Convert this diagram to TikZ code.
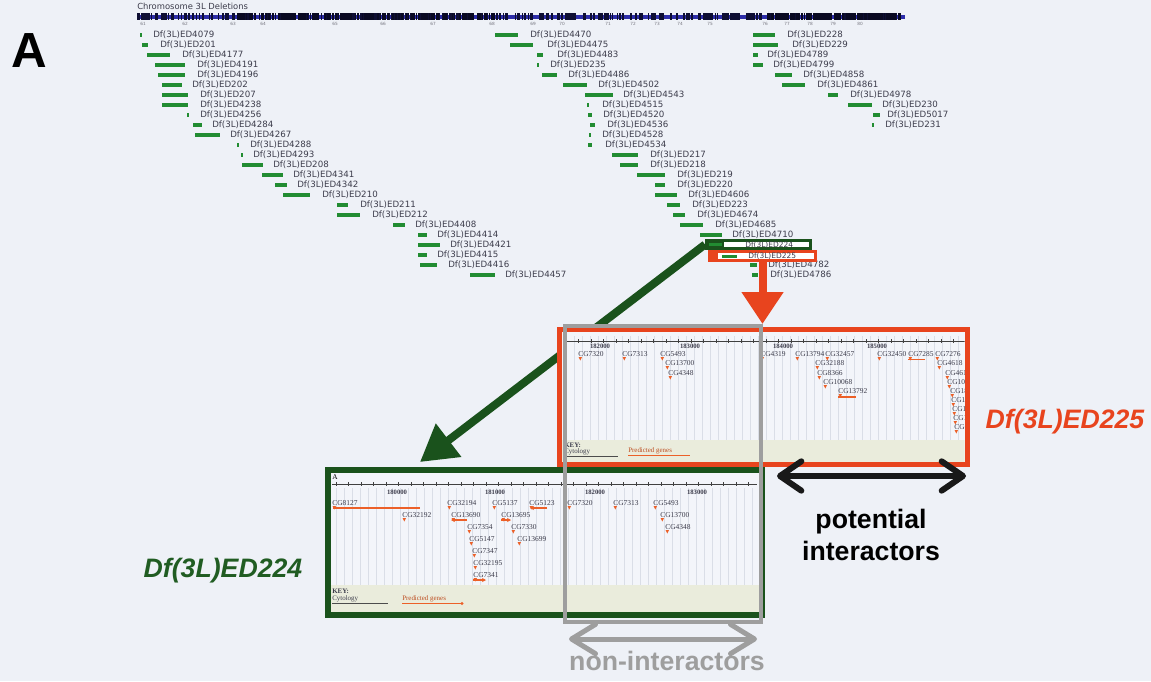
\documentclass[tikz,border=0pt]{standalone}
\usepackage{fontspec}
\setmainfont{Liberation Sans}
\newfontfamily\delfont{DejaVu Sans}
\newfontfamily\genefont{Liberation Serif}
\usetikzlibrary{arrows.meta}

\definecolor{pagebg}{RGB}{238,241,247}
\definecolor{panelbg}{RGB}{243,245,250}
\definecolor{delgreen}{RGB}{34,140,50}
\definecolor{boxgreen}{RGB}{26,82,28}
\definecolor{labgreen}{RGB}{32,92,34}
\definecolor{hired}{RGB}{232,68,30}
\definecolor{midgray}{RGB}{158,158,158}
\definecolor{keybg}{RGB}{234,236,220}
\definecolor{gridln}{RGB}{218,222,231}
\definecolor{chrblue}{RGB}{45,45,170}
\definecolor{txtgray}{RGB}{60,60,75}
\definecolor{geneor}{RGB}{236,96,40}

\begin{document}
\begin{tikzpicture}[x=0.75pt,y=-0.75pt,
  dellabel/.style={anchor=west,inner sep=0pt,font=\delfont\fontsize{6.5}{7}\selectfont,text=txtgray},
  genelabel/.style={anchor=west,inner sep=0pt,font=\genefont\fontsize{5.6}{6}\selectfont,text=txtgray},
  rulerlabel/.style={inner sep=0pt,font=\genefont\bfseries\fontsize{5}{6}\selectfont,text=txtgray},
  keytext/.style={anchor=west,inner sep=0pt,font=\genefont\fontsize{5.2}{6}\selectfont,text=txtgray},
  bigtext/.style={inner sep=0pt,font=\bfseries\fontsize{20}{24}\selectfont},
  frame/.style={inner sep=0pt,outer sep=0pt},
  marker/.style={fill=geneor},
]
\useasboundingbox (0,0) rectangle (1151,681);
\fill[pagebg] (0,0) rectangle (1151,681);

% ---------- frame geometry (drawn further below) ----------
\node[frame,minimum width=305.6pt,minimum height=100.9pt] (redzoom) at (763.25,397.25) {};
\node[frame,minimum width=325.5pt,minimum height=108.75pt] (greenzoom) at (545,542.5) {};
\node[frame,minimum width=147pt,minimum height=222pt] (grayzoom) at (663,474) {};

% ---------- panel letter ----------
\node[inner sep=0pt,font=\bfseries\fontsize{37}{40}\selectfont] (panelA) at (29,51) {A};

% ---------- chromosome arm ----------
\node[anchor=west,inner sep=0pt,font=\delfont\fontsize{6.3}{7}\selectfont,text=txtgray] (chrtitle) at (137,6) {Chromosome 3L Deletions};
\fill[chrblue] (137,15) rectangle (905,19);
\pgfmathsetseed{11}
\foreach \i in {1,...,420}{
  \pgfmathsetmacro\bx{137+766*rnd}
  \pgfmathsetmacro\bw{0.5+1.6*rnd}
  \fill[black!70!chrblue] (\bx,13.5) rectangle ++(\bw,7);
}
\foreach \i in {1,...,200}{
  \pgfmathsetmacro\bx{235+260*rnd}
  \pgfmathsetmacro\bw{0.5+1.6*rnd}
  \fill[black!80!chrblue] (\bx,13.5) rectangle ++(\bw,7);
}
\foreach \i in {1,...,150}{
  \pgfmathsetmacro\bx{765+135*rnd}
  \pgfmathsetmacro\bw{0.5+1.6*rnd}
  \fill[black!80!chrblue] (\bx,13.5) rectangle ++(\bw,7);
}
\foreach \tx/\tn in {143/61,185/62,233/63,263/64,335/65,383/66,433/67,492/68,533/69,562/70,
                     608/71,633/72,657/73,680/74,710/75,765/76,787/77,810/78,833/79,860/80}{
  \node[inner sep=0pt,font=\delfont\fontsize{3.2}{4}\selectfont,text=txtgray!70] (cyt-\tn) at (\tx,24) {\tn};
}

% ---------- deletion list ----------
\foreach \a/\b/\r/\l/\n in {
  140/142/0/153/ED4079, 142/148/1/160/ED201, 147/170/2/182/ED4177, 155/185/3/197/ED4191,
  158/185/4/197/ED4196, 162/182/5/192/ED202, 162/188/6/200/ED207, 162/188/7/200/ED4238,
  187/189/8/200/ED4256, 193/202/9/212/ED4284, 195/220/10/230/ED4267, 237/239/11/250/ED4288,
  241/243/12/253/ED4293, 242/263/13/273/ED208, 262/283/14/293/ED4341, 275/287/15/297/ED4342,
  283/310/16/322/ED210, 337/348/17/360/ED211, 337/360/18/372/ED212, 393/405/19/415/ED4408,
  418/427/20/437/ED4414, 418/440/21/450/ED4421, 418/427/22/437/ED4415, 420/437/23/448/ED4416,
  470/495/24/505/ED4457,
  495/518/0/530/ED4470, 510/533/1/547/ED4475, 537/543/2/557/ED4483, 537/539/3/550/ED235,
  542/557/4/568/ED4486, 563/587/5/598/ED4502, 585/613/6/623/ED4543, 587/589/7/602/ED4515,
  588/592/8/603/ED4520, 590/595/9/607/ED4536, 589/591/10/602/ED4528, 588/592/11/605/ED4534,
  612/638/12/650/ED217, 620/638/13/650/ED218, 637/665/14/677/ED219, 655/665/15/677/ED220,
  655/677/16/688/ED4606, 667/680/17/692/ED223, 673/685/18/697/ED4674, 680/703/19/715/ED4685,
  700/722/20/732/ED4710, 750/757/23/768/ED4782, 752/758/24/770/ED4786,
  753/775/0/787/ED228, 753/778/1/792/ED229, 753/758/2/767/ED4789, 753/763/3/773/ED4799,
  775/792/4/803/ED4858, 782/805/5/817/ED4861, 828/838/6/850/ED4978, 848/872/7/882/ED230,
  873/880/8/887/ED5017, 872/874/9/885/ED231}{
  \fill[delgreen] (\a,35+10*\r-1.6) rectangle (\b,35+10*\r+1.6);
  \node[dellabel] (del-\n) at (\l,35+10*\r) {Df(3L)\n};
}

% highlighted deletions
\node[frame,fill=boxgreen,minimum width=80.25pt,minimum height=8.25pt] (hl224) at (758.5,244.5) {};
\fill[white] (724,242.2) rectangle (809,247);
\fill[delgreen] (709,243) rectangle (722,246);
\node[dellabel,font=\delfont\fontsize{5.6}{6}\selectfont] (del-ED224) at (745,244.7) {Df(3L)ED224};

\node[frame,fill=hired,minimum width=81.75pt,minimum height=9pt] (hl225) at (762.5,256) {};
\fill[white] (718,253.2) rectangle (814,258.8);
\fill[delgreen] (722,254.5) rectangle (737,257.5);
\node[dellabel,font=\delfont\fontsize{5.6}{6}\selectfont] (del-ED225) at (748,256.2) {Df(3L)ED225};

% ---------- call-out arrows ----------
\coordinate (greentip) at (420,462);
\coordinate (redtip) at (762.5,324);
\draw[boxgreen,line width=6pt,-{Triangle[length=27pt,width=30pt]}] (hl224.west) -- (greentip);
\draw[hired,line width=6pt,-{Triangle[length=24pt,width=30pt]}] (hl225.south) -- (redtip);

% ---------- zoomed view of Df(3L)ED225 ----------
\fill[panelbg] (redzoom.north west) rectangle (redzoom.south east);
\begin{scope}
  \clip (562,332.5) rectangle (964.5,462);
  \foreach \gx in {566,574,...,962}{\draw[gridln,line width=0.35pt] (\gx,336) -- (\gx,440);}
  \fill[keybg] (560,440) rectangle (966,463);
  \draw[black!75,line width=0.5pt] (563,341) -- (965,341);
  \foreach \tx in {566,578.5,...,962}{\draw[black!75,line width=0.4pt] (\tx,339) -- (\tx,343);}
  \foreach \tx/\tl in {600/182000,690/183000,783/184000,877/185000}{
    \node[rulerlabel] (rr-\tl) at (\tx,346.5) {\tl};}
  \foreach \gx/\gy/\gn in {578/354/CG7320, 622/354/CG7313, 660/354/CG5493, 760/354/CG4319,
     795/354/CG13794, 825/354/CG32457, 877/354/CG32450, 908/354/CG7285, 935/354/CG7276,
     665/363/CG13700, 815/363/CG32188, 937/363/CG4618,
     668/373/CG4348, 817/373/CG8366, 945/373/CG4617,
     823/382/CG10068, 947/382/CG10082, 838/391/CG13792, 950/391/CG18302,
     951/400/CG10011, 952/409/CG10073, 953/418/CG10092, 954/427/CG10108}{
    \node[genelabel] (rg-\gn) at (\gx,\gy) {\gn};
    \fill[marker] (\gx+0.5,\gy+3) -- ++(3.5,0) -- ++(-1.75,3.5) -- cycle;
  }
  \draw[geneor,line width=0.8pt] (838,397) -- (856,397);
  \draw[geneor,line width=0.8pt] (908,359.5) -- (925,359.5);
  \node[keytext,font=\genefont\bfseries\fontsize{5.2}{6}\selectfont] (rkey) at (564,445) {KEY:};
  \node[keytext] (rcyt) at (564,452) {Cytology};
  \draw[black!70,line width=0.4pt] (564,456.5) -- (618,456.5);
  \node[keytext,text=geneor!80!black] (rpred) at (628,451) {Predicted genes};
  \draw[geneor,line width=0.8pt] (628,455.5) -- (690,455.5);
\end{scope}
\draw[hired,line width=3.75pt] (redzoom.north west) rectangle (redzoom.south east);

% ---------- zoomed view of Df(3L)ED224 ----------
\fill[panelbg] (greenzoom.north west) rectangle (greenzoom.south east);
\begin{scope}
  \clip (331,473) rectangle (759,612);
  \foreach \gx in {336,344,...,756}{\draw[gridln,line width=0.35pt] (\gx,488) -- (\gx,585);}
  \fill[keybg] (330,585) rectangle (760,613);
  \node[inner sep=0pt,font=\genefont\fontsize{5.5}{6}\selectfont] (gA) at (335,477.5) {A};
  \draw[black!75,line width=0.5pt] (332,484) -- (757,484);
  \foreach \tx in {336,348.5,...,756}{\draw[black!75,line width=0.4pt] (\tx,482) -- (\tx,486);}
  \foreach \tx/\tl in {397/180000,495/181000,595/182000,697/183000}{
    \node[rulerlabel] (gr-\tl) at (\tx,492) {\tl};}
  \foreach \gx/\gy/\gn in {332/503/CG8127, 447/503/CG32194, 492/503/CG5137, 529/503/CG5123,
     567/503/CG7320, 613/503/CG7313, 653/503/CG5493,
     402/515/CG32192, 451/515/CG13690, 501/515/CG13695, 660/515/CG13700,
     467/527/CG7354, 511/527/CG7330, 665/527/CG4348,
     469/539/CG5147, 517/539/CG13699, 472/551/CG7347, 473/563/CG32195, 473/575/CG7341}{
    \node[genelabel] (gg-\gn) at (\gx,\gy) {\gn};
    \fill[marker] (\gx+0.5,\gy+3) -- ++(3.5,0) -- ++(-1.75,3.5) -- cycle;
  }
  \draw[geneor,line width=1pt] (333,508) -- (420,508);
  \draw[geneor,line width=1pt,-{Stealth[length=3pt,width=3pt]}] (547,508) -- (530,508);
  \draw[geneor,line width=1pt,-{Stealth[length=3pt,width=3pt]}] (467,520) -- (451,520);
  \draw[geneor,line width=1pt,-{Stealth[length=3pt,width=3pt]}] (501,520) -- (511,520);
  \draw[geneor,line width=1pt,-{Stealth[length=3pt,width=3pt]}] (473,580) -- (486,580);
  \node[keytext,font=\genefont\bfseries\fontsize{5.2}{6}\selectfont] (gkey) at (332,591) {KEY:};
  \node[keytext] (gcyt) at (332,599) {Cytology};
  \draw[black!70,line width=0.4pt] (332,603.5) -- (388,603.5);
  \node[keytext,text=geneor!80!black] (gpred) at (402,599) {Predicted genes};
  \draw[geneor,line width=0.8pt] (402,603.5) -- (462,603.5);
  \fill[geneor] (462,603.5) circle (1.6);
\end{scope}
\draw[boxgreen,line width=4.5pt] (greenzoom.north west) rectangle (greenzoom.south east);

% ---------- shared region ----------
\draw[midgray,line width=3pt] (grayzoom.north west) rectangle (grayzoom.south east);

% ---------- span arrows ----------
\coordinate (potL) at (777,476);
\coordinate (potR) at (966,476);
\draw[black!90,line width=4.5pt,
  {Straight Barb[length=16pt,width=22pt,round]}-{Straight Barb[length=16pt,width=22pt,round]}] (potL) -- (potR);
\coordinate (nonL) at (569,639);
\coordinate (nonR) at (757,639);
\draw[midgray,line width=3.75pt,
  {Straight Barb[length=18pt,width=22pt,round]}-{Straight Barb[length=18pt,width=22pt,round]}] (nonL) -- (nonR);

% ---------- labels ----------
\node[bigtext,anchor=base] (lblpot) at (871,528) {potential};
\node[bigtext,anchor=base] (lblint) at (871,560) {interactors};
\node[bigtext,anchor=base,text=midgray] (lblnon) at (667,670) {non-interactors};
\node[bigtext,anchor=base,text=hired,font=\bfseries\itshape\fontsize{20}{24}\selectfont] (lbl225) at (1065,428) {Df(3L)ED225};
\node[bigtext,anchor=base,text=labgreen,font=\bfseries\itshape\fontsize{20}{24}\selectfont] (lbl224) at (223,577) {Df(3L)ED224};
\end{tikzpicture}
\end{document}
